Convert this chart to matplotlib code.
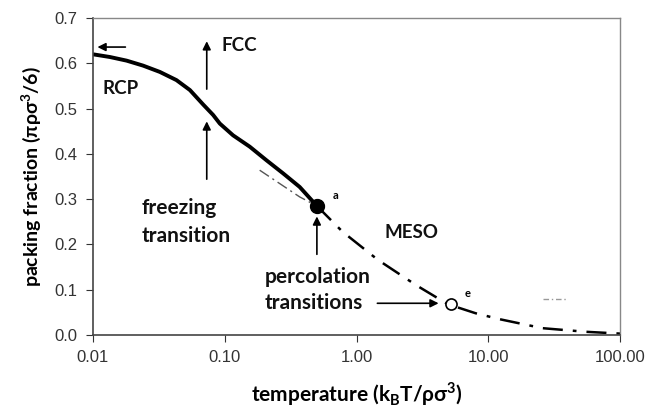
import matplotlib.pyplot as plt

# packing fraction vs temperature
solid_T = [0.01, 0.01345, 0.018, 0.024, 0.0322, 0.043, 0.0544, 0.0686, 0.0816, 0.0917,
           0.1156, 0.1546, 0.207, 0.277, 0.370, 0.50]
solid_phi = [0.620, 0.614, 0.606, 0.595, 0.581, 0.563, 0.541, 0.509, 0.486, 0.467,
             0.441, 0.416, 0.386, 0.357, 0.327, 0.285]

low_T = [0.184, 0.37, 0.50]
low_phi = [0.364, 0.305, 0.285]

meso_T = [0.50, 0.783, 1.45, 2.83, 4.92, 8.0, 12.1, 25.7, 55.0, 100.0]
meso_phi = [0.285, 0.228, 0.166, 0.110, 0.068, 0.048, 0.035, 0.015, 0.007, 0.003]

perc_T = [0.50, 5.2]
perc_phi = [0.285, 0.068]

xticks = [0.01, 0.1, 1, 10, 100]
xtick_labels = ['0.01', '0.10', '1.00', '10.00', '100.00']
yticks = [0.0, 0.1, 0.2, 0.3, 0.4, 0.5, 0.6, 0.7]

lab_font = ['Lato', 'DejaVu Sans']

fig = plt.figure(figsize=(6.64, 4.11), dpi=100)
ax = fig.add_axes([0.140, 0.185, 0.794, 0.771])

ax.plot(low_T, low_phi, color='#555555', lw=1.0, dashes=(8, 3, 1.5, 3))
ax.plot(meso_T, meso_phi, color='black', lw=1.8, dashes=(8, 4, 1.5, 4))
ax.plot(solid_T, solid_phi, color='black', lw=2.8, solid_capstyle='butt',
        solid_joinstyle='round')
ax.plot(perc_T[:1], perc_phi[:1], 'o', color='black', ms=10)
ax.plot(perc_T[1:], perc_phi[1:], 'o', mfc='white', mec='black', mew=1.2, ms=8)

ax.set_xscale('log')
ax.set_xlim(0.01, 100)
ax.set_ylim(0, 0.7)
ax.set_xticks(xticks)
ax.set_xticklabels(xtick_labels)
ax.minorticks_off()
ax.set_yticks(yticks)
ax.set_yticklabels([f'{v:.1f}' for v in yticks])
ax.tick_params(labelsize=12, colors='#333333', length=5, direction='out', pad=6)
for lbl in ax.get_xticklabels() + ax.get_yticklabels():
    lbl.set_family(['Liberation Sans', 'DejaVu Sans'])

for side in ['top', 'right']:
    ax.spines[side].set_color('#888888')
    ax.spines[side].set_linewidth(1.0)
for side in ['left', 'bottom']:
    ax.spines[side].set_color('#444444')
    ax.spines[side].set_linewidth(1.2)

ax.set_xlabel('temperature (k$_\\mathregular{B}$T/ρσ$^\\mathregular{3}$)', fontsize=15,
              fontweight='bold', family=lab_font, labelpad=11)
ax.set_ylabel('packing fraction (πρσ$^\\mathregular{3}$/6)', fontsize=14,
              fontweight='bold', family=lab_font, labelpad=8)

arrow = dict(arrowstyle='-|>', color='black', lw=1.2, mutation_scale=12)
ax.annotate('', xy=(0.0103, 0.636), xytext=(0.0185, 0.636), arrowprops=arrow)
ax.annotate('', xy=(0.073, 0.655), xytext=(0.073, 0.537), arrowprops=arrow)
ax.annotate('', xy=(0.073, 0.478), xytext=(0.073, 0.338), arrowprops=arrow)
ax.annotate('', xy=(0.50, 0.268), xytext=(0.50, 0.172), arrowprops=arrow)
ax.annotate('', xy=(4.4, 0.070), xytext=(1.37, 0.070), arrowprops=arrow)

caps = dict(fontsize=13.5, fontweight='bold', family=lab_font, color='#111111')
txt = dict(fontsize=15, fontweight='bold', family=lab_font, color='#111111')
ax.text(0.095, 0.64, 'FCC', va='center', ha='left', **caps)
ax.text(0.0119, 0.545, 'RCP', va='center', ha='left', **caps)
ax.text(1.63, 0.227, 'MESO', va='center', ha='left', **caps)
ax.text(0.0235, 0.28, 'freezing', va='center', ha='left', **txt)
ax.text(0.0235, 0.219, 'transition', va='center', ha='left', **txt)
ax.text(0.201, 0.128, 'percolation', va='center', ha='left', **txt)
ax.text(0.201, 0.071, 'transitions', va='center', ha='left', **txt)
ax.text(0.66, 0.309, 'a', va='center', ha='left', fontsize=8, fontweight='bold', family=lab_font)
ax.text(6.6, 0.092, 'e', va='center', ha='left', fontsize=8, fontweight='bold', family=lab_font)

ax.plot([26, 40], [0.08, 0.08], color='#999999', lw=1.0, dashes=(4, 2, 1, 2))

fig.savefig('out.png', dpi=100)
